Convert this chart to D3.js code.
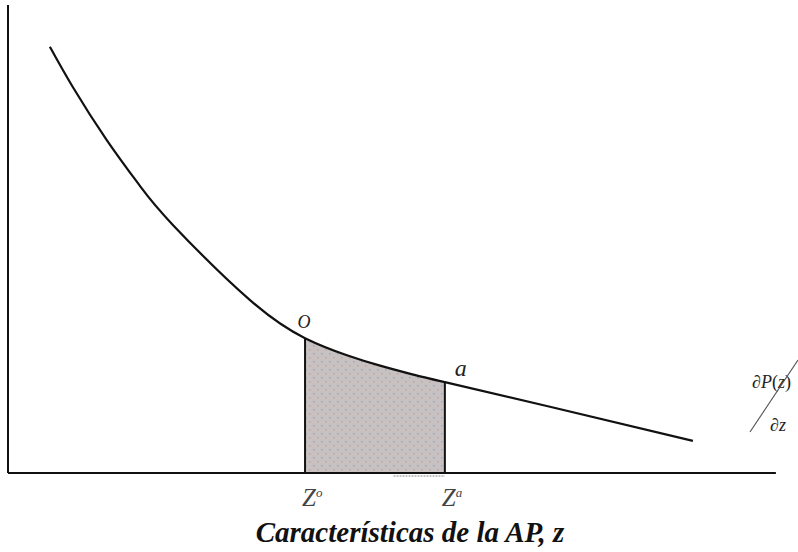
<!DOCTYPE html>
<html>
<head>
<meta charset="utf-8">
<script src="https://cdn.jsdelivr.net/npm/d3@7"></script>
<style>
  body { margin: 0; background: #fff; }
  svg { display: block; }
</style>
</head>
<body>
<div id="chart"></div>
<script>
// curve (abstract units, 0..100 on both axes)
const curveX = [5.3, 8.2, 12.5, 16.7, 20.9, 30.6, 37.6, 42.9, 47.1, 51.3, 55.3, 68.6, 86.7]
const curveY = [90.1, 81.6, 70.4, 60.7, 52.4, 36.6, 28.5, 24.9, 22.7, 20.8, 19.2, 14.0, 6.8]
const zMarks = [37.6, 55.3]
const zLabels = ['Z', 'Z']
const zSups = ['o', 'a']
const pointLabels = ['O', 'a']
const title = 'Características de la AP, z'

const width = 798, height = 552

const x = d3.scaleLinear().domain([0, 100]).range([8, 798])
const y = d3.scaleLinear().domain([0, 100]).range([473, 0])

const pts = curveX.map((d, i) => ({ x: d, y: curveY[i] }))

const svg = d3.select('#chart').append('svg')
  .attr('width', width)
  .attr('height', height)

// dotted grey fill
const defs = svg.append('defs')
const pat = defs.append('pattern')
  .attr('id', 'dots')
  .attr('patternUnits', 'userSpaceOnUse')
  .attr('width', 8).attr('height', 8)
pat.append('rect').attr('width', 8).attr('height', 8).attr('fill', '#c7c1c1')
pat.append('rect').attr('x', 1).attr('y', 1).attr('width', 1.5).attr('height', 1.5).attr('fill', '#9aa8c8')
pat.append('rect').attr('x', 5).attr('y', 5).attr('width', 1.5).attr('height', 1.5).attr('fill', '#c9a0a8')

defs.append('clipPath').attr('id', 'zclip')
  .append('rect')
    .attr('x', x(zMarks[0])).attr('y', 0)
    .attr('width', x(zMarks[1]) - x(zMarks[0]))
    .attr('height', y(0))

const line = d3.line().x(d => x(d.x)).y(d => y(d.y)).curve(d3.curveNatural)
const area = d3.area().x(d => x(d.x)).y0(y(0)).y1(d => y(d.y)).curve(d3.curveNatural)

svg.append('path')
  .attr('d', area(pts))
  .attr('fill', 'url(#dots)')
  .attr('clip-path', 'url(#zclip)')

// faint dashed bit under the axis
svg.append('line')
  .attr('x1', x(48.8)).attr('x2', x(55.3))
  .attr('y1', y(0) + 3).attr('y2', y(0) + 3)
  .attr('stroke', '#888').attr('stroke-width', 1)
  .attr('stroke-dasharray', '2,1')

// axes
svg.append('line')
  .attr('x1', x(0)).attr('x2', x(0))
  .attr('y1', 5).attr('y2', y(0))
  .attr('stroke', '#111').attr('stroke-width', 2)
svg.append('line')
  .attr('x1', x(0)).attr('x2', x(97.2))
  .attr('y1', y(0)).attr('y2', y(0))
  .attr('stroke', '#111').attr('stroke-width', 2)

// curve
svg.append('path')
  .attr('d', line(pts))
  .attr('fill', 'none')
  .attr('stroke', '#111')
  .attr('stroke-width', 2.2)

// verticals at Z
const yAt = xv => pts.find(d => d.x === xv).y
svg.selectAll('.zline')
  .data(zMarks).enter()
  .append('line')
    .attr('x1', d => x(d)).attr('x2', d => x(d))
    .attr('y1', y(0)).attr('y2', d => y(yAt(d)))
    .attr('stroke', '#111').attr('stroke-width', 2)

// O and a
const serif = '"Liberation Serif", "Times New Roman", serif'
svg.selectAll('.plab')
  .data(zMarks).enter()
  .append('text')
    .attr('x', (d, i) => x(d) + (i === 0 ? -1 : 16))
    .attr('y', (d, i) => y(yAt(d)) + (i === 0 ? -10 : -6))
    .attr('text-anchor', 'middle')
    .attr('font-family', serif)
    .attr('font-style', 'italic')
    .attr('font-size', (d, i) => i === 0 ? 18 : 24)
    .attr('fill', '#222')
    .text((d, i) => pointLabels[i])

// Z labels
const zl = svg.selectAll('.zlab')
  .data(zMarks).enter()
  .append('text')
    .attr('x', d => x(d) - 3)
    .attr('y', 506)
    .attr('font-family', serif)
    .attr('font-style', 'italic')
    .attr('font-size', 25)
    .attr('fill', '#444')
zl.append('tspan').text((d, i) => zLabels[i])
zl.append('tspan')
  .attr('dy', -9)
  .attr('font-size', 13)
  .text((d, i) => zSups[i])

// right-hand label dP(z)/dz
const rl = svg.append('text')
  .attr('x', 752).attr('y', 388)
  .attr('font-family', serif)
  .attr('font-size', 18)
  .attr('fill', '#222')
rl.append('tspan').text('∂')
rl.append('tspan').attr('font-style', 'italic').text('P')
rl.append('tspan').text('(')
rl.append('tspan').attr('font-style', 'italic').text('z')
rl.append('tspan').text(')')
svg.append('line')
  .attr('x1', 798).attr('y1', 360)
  .attr('x2', 750).attr('y2', 432)
  .attr('stroke', '#555').attr('stroke-width', 1.2)
const rl2 = svg.append('text')
  .attr('x', 770).attr('y', 431)
  .attr('font-family', serif)
  .attr('font-size', 18)
  .attr('fill', '#222')
rl2.append('tspan').text('∂')
rl2.append('tspan').attr('font-style', 'italic').text('z')

// title
svg.append('text')
  .attr('x', 410).attr('y', 542)
  .attr('text-anchor', 'middle')
  .attr('font-family', serif)
  .attr('font-style', 'italic')
  .attr('font-weight', 'bold')
  .attr('font-size', 29)
  .attr('fill', '#111')
  .text(title)
</script>
</body>
</html>
